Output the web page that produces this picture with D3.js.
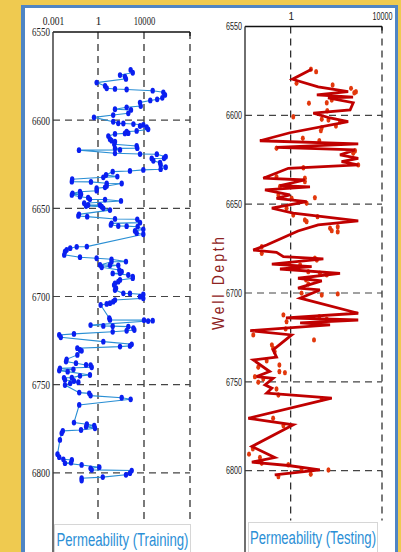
<!DOCTYPE html>
<html>
<head>
<meta charset="utf-8">
<script src="https://cdn.jsdelivr.net/npm/d3@7"></script>
<style>
html, body { margin: 0; padding: 0; background: #efca50; }
svg { display: block; }
</style>
</head>
<body>
<svg width="401" height="552"></svg>
<script>
// Training well: depth (ft) and permeability (md)
var trainDepth = [6571.5,6573.1,6574.4,6575.3,6576.6,6578.7,6580.6,6581.9,6582.3,6582.6,6583.3,6584.2,6585.7,6587.3,6588.2,6588.8,6590,6592,6592.7,6593.8,6594.2,6596.1,6597.1,6598.4,6600.9,6601.8,6601.9,6602.2,6602.7,6603.3,6604,6605.2,6606.1,6606.5,6607.4,6607.5,6607.8,6609,6610.8,6611.6,6612.2,6613.7,6614.6,6615.9,6616,6616.9,6617,6618.8,6619.2,6619.3,6620.7,6621.6,6621.7,6623,6624.1,6625.4,6626.7,6627.8,6628.2,6628.8,6629.2,6631.1,6632,6632.4,6633.5,6634.9,6635,6635.8,6635.9,6637.3,6638.1,6638.6,6640,6640.6,6641.5,6642,6642.4,6643.4,6644,6644.9,6645,6645.8,6647.1,6648.1,6648.2,6648.7,6649.1,6650,6651,6653.4,6654.3,6654.7,6656,6656.2,6658.1,6658.5,6659.4,6660,6660.1,6660.4,6661.9,6662.8,6664.1,6664.7,6671.7,6671.8,6672.6,6673.6,6674.6,6676.4,6677.7,6678.3,6678.9,6680.2,6680.3,6682.1,6682.2,6682.3,6683.4,6685,6685.9,6686.8,6686.9,6687.8,6688.7,6689.6,6690.6,6691.6,6692.5,6693.5,6695.3,6696.3,6698.2,6698.3,6698.8,6700.1,6701,6702,6702.9,6703.8,6704.2,6704.8,6712.3,6713.3,6713.4,6713.7,6713.9,6716.2,6716.7,6716.8,6717.1,6718,6719,6719.4,6720,6721.2,6721.8,6723.1,6725.6,6727.1,6728,6728.4,6729.3,6730.3,6730.8,6733.1,6735.6,6736.9,6737.8,6738.8,6738.9,6740.1,6740.7,6741.3,6742,6742.6,6744.5,6745,6746,6746.1,6747.3,6747.9,6748.6,6749.2,6750.2,6754.5,6754.9,6756.2,6757.4,6758.3,6761.5,6771.5,6772.4,6773.2,6773.8,6774.7,6775.7,6776.2,6777.5,6781.3,6789.4,6791.1,6792.3,6792.7,6794.2,6794.5,6795.5,6796.8,6797.4,6798.3,6798.7,6800.2,6801.1,6802.4,6803,6804.4];
var trainPerm = [690,1050,82,220,270,0.81,4.1,5.7,30,310,57000,480000,670000,390000,140000,35000,4500,5200,310,30,740,430,21,0.54,21,58,160,1200,8700,4500,17000,23000,2300,310,430,220,30,7.9,11,15,30,26,2300,2600,30,82,0.054,30,4500,130000,770000,550000,47000,65000,250000,280000,770000,280000,8700,600,19,5,48,2.9,0.019,0.018,0.34,5.7,115,5.7,4.1,0.81,0.81,0.063,0.02,0.074,0.018,0.063,0.22,0.29,4.1,100,0.12,0.22,1.5,0.16,2.1,2.9,11,0.054,0.049,0.19,30,2600,4500,15,13,58,310,2800,8700,1650,2300,8700,0.18,0.038,0.014,0.0081,0.0063,0.0056,0.063,0.81,15,270,15,1.5,11,58,2.1,71,115,82,19,430,1050,1050,82,58,30,25,37,30,160,600,8700,4500,8700,30,21,11,5.7,1.7,9.6,11,10000,57000,23000,0.32,2.9,19,430,1200,1450,310,19,0.025,0.0026,0.0033,2.9,850,600,82,0.042,0.063,0.081,0.042,0.0081,0.0074,0.034,0.16,0.32,0.38,0.0029,0.023,0.0026,0.0095,0.29,0.063,0.018,0.0054,0.0063,0.025,0.049,0.014,0.0063,0.056,0.26,0.32,115,690,0.056,0.025,0.18,0.56,0.16,0.63,0.074,0.0045,0.0038,0.0029,0.002,0.0026,0.0049,0.018,0.016,0.0063,0.081,1.3,0.32,0.38,850,600,270,2.6,0.081,0.081];

// Testing well: predicted curve
var predDepth = [6574.1,6579.7,6584,6586.7,6588.5,6589.7,6590.2,6592.9,6597,6598.8,6601.5,6603.6,6609.8,6614.3,6616.1,6618,6619.5,6622.3,6624.2,6626.1,6627.9,6629.8,6635.4,6636.4,6639.6,6640.3,6642,6644.8,6646.7,6648.6,6652.3,6655.1,6659.4,6661.7,6665.1,6673,6675.8,6677.1,6679.5,6680.8,6683.8,6685.2,6686.5,6688.9,6691.7,6693.2,6697.3,6698.3,6702.9,6711.4,6714,6715.2,6716.8,6718,6721.2,6723.6,6732,6736.1,6737.7,6744.2,6747.1,6748,6751.7,6753.6,6756.4,6759.2,6770.5,6774.2,6786.4,6792.6,6795.2,6797.1,6799.6,6802.4];
var predPerm = [8.3,1.2,16,330,14,540,43,550,400,9.8,53,330,0.93,0.045,910,0.24,660,145,910,170,910,0.79,0.063,4.2,0.34,7,0.075,0.93,0.24,5,0.15,1.3,910,16,2.1,0.089,0.023,0.24,0.48,27,0.15,8.3,0.34,145,2.1,23,2.1,19,2.6,910,0.62,910,2.6,53,0.017,1.1,0.17,0.24,0.023,0.12,0.032,0.17,0.075,0.15,0.089,63,0.014,1.3,0.02,0.2,0.02,0.79,19,0.2];

// Testing well: measured values
var testDepth = [6574.1,6575.4,6582,6582.9,6584.8,6586.7,6587.3,6591.4,6593.2,6592.9,6597.4,6600.8,6602.2,6602.6,6603.6,6606,6606.9,6608.6,6612.9,6614.3,6618.5,6619.9,6621.4,6627.9,6629.5,6634.5,6635.4,6637.3,6640.1,6644.8,6646.7,6646.3,6649.5,6652.3,6656.1,6657,6658.9,6659.8,6663.6,6664.9,6662.7,6665.5,6673.9,6677.6,6680.4,6681.4,6683.6,6684.2,6688,6688.9,6689.8,6692.6,6694.9,6700.1,6701.1,6700.5,6712.3,6713.3,6714.8,6716.1,6720.2,6723.6,6726.4,6729.2,6731.1,6733,6738.2,6740.5,6741.8,6744.2,6744.8,6747.1,6748.4,6750.2,6754,6757.4,6759.6,6770.5,6774.6,6787.7,6790.7,6792.6,6795.8,6796.7,6799,6799.6,6802,6803.3];
var testPerm = [7.7,13,1.8,69,440,720,610,63,6.3,38,40,1.3,23,45,145,96,23,21,3.4,18,0.24,660,550,910,3.6,0.24,4.2,4.2,0.34,0.29,1.1,11.5,5,0.66,1.3,15,4.2,5,53,63,115,115,0.054,0.054,11.5,14,0.87,2.6,5.9,19,38,4.7,5.9,3,23,115,0.48,18,38,0.66,0.6,0.023,10.5,0.15,0.17,0.2,0.089,0.32,0.038,0.32,0.56,0.027,0.063,0.038,0.24,0.29,23,0.17,0.48,0.022,0.015,0.045,0.054,0.79,3,45,7.6,0.29];

// Axis ticks
var depthTicks = [6550, 6600, 6650, 6700, 6750, 6800];
var trainPermTicks = [0.001, 1, 10000];
var testPermTicks = [1, 10000];

var svg = d3.select("svg");

// background + frame
svg.append("rect").attr("width", 401).attr("height", 552).attr("fill", "#efca50");
svg.append("rect").attr("x", 21).attr("y", 5).attr("width", 377).attr("height", 600).attr("fill", "#4f85c4");
svg.append("rect").attr("x", 25).attr("y", 8).attr("width", 370).attr("height", 600).attr("fill", "#ffffff");

function panel(opt) {
    var g = svg.append("g");
    var x = opt.x, y = opt.y;
    var x0 = x.range()[0], x1 = x.range()[x.range().length - 1];
    var yTop = y.range()[0], yBot = y.range()[1];

    // grid
    g.selectAll("line.vg").data(opt.vgrid).enter().append("line")
        .attr("x1", function(d) { return x(d); }).attr("x2", function(d) { return x(d); })
        .attr("y1", yTop).attr("y2", yBot)
        .attr("stroke", "#222").attr("stroke-width", 1.2).attr("stroke-dasharray", "7,5");
    g.selectAll("line.hg").data(depthTicks.slice(1)).enter().append("line")
        .attr("x1", x0).attr("x2", x1)
        .attr("y1", function(d) { return y(d); }).attr("y2", function(d) { return y(d); })
        .attr("stroke", "#444").attr("stroke-width", 1.2).attr("stroke-dasharray", "7,5");

    // axes lines
    g.append("line").attr("x1", x0).attr("x2", x1).attr("y1", yTop).attr("y2", yTop)
        .attr("stroke", "#111").attr("stroke-width", 1.5);
    g.append("line").attr("x1", x1).attr("x2", x1).attr("y1", yTop).attr("y2", yTop + 4)
        .attr("stroke", "#111").attr("stroke-width", 1.2);
    g.append("line").attr("x1", x0).attr("x2", x0).attr("y1", yTop).attr("y2", 560)
        .attr("stroke", "#333").attr("stroke-width", 1.4);

    // tick labels
    var ya = g.append("g").attr("transform", "translate(" + x0 + ",0)")
        .call(d3.axisLeft(y).tickValues(depthTicks).tickSize(0).tickPadding(3).tickFormat(d3.format("d")));
    ya.select(".domain").remove();
    ya.selectAll("text").attr("font-family", opt.font).attr("font-size", opt.fs)
        .attr("fill", "#222").attr("textLength", opt.ylw).attr("lengthAdjust", "spacingAndGlyphs");

    var xa = g.append("g").attr("transform", "translate(0," + (yTop - opt.xlOff) + ")")
        .call(d3.axisTop(x).tickValues(opt.xticks).tickSize(0).tickPadding(0)
            .tickFormat(function(d) { return d < 1 ? d3.format(".3f")(d) : d3.format("d")(d); }));
    xa.select(".domain").remove();
    xa.selectAll("text").attr("font-family", opt.font).attr("font-size", opt.fs).attr("fill", "#222")
        .each(function(d) {
            var n = String(this.textContent).length;
            if (n > 1) d3.select(this).attr("textLength", n * opt.cw).attr("lengthAdjust", "spacingAndGlyphs");
        });
    return g;
}

// ---- left: training ----
var xL = d3.scaleLog().domain([0.001, 1, 10000, 1e8]).range([53, 98, 144, 190]);
var yL = d3.scaleLinear().domain([6550, 6829]).range([32, 524]);
var gL = panel({x: xL, y: yL, vgrid: [1, 10000, 1e8], xticks: trainPermTicks,
    font: "Liberation Serif, serif", fs: 12, ylw: 18, cw: 4.3, xlOff: 7});

var trainPts = trainDepth.map(function(d, i) { return {d: d, k: trainPerm[i]}; });
gL.append("path").datum(trainPts)
    .attr("d", d3.line().x(function(p) { return xL(p.k); }).y(function(p) { return yL(p.d); }))
    .attr("fill", "none").attr("stroke", "#2a8fd4").attr("stroke-width", 1.1);
gL.selectAll("ellipse").data(trainPts).enter().append("ellipse")
    .attr("cx", function(p) { return xL(p.k); }).attr("cy", function(p) { return yL(p.d); })
    .attr("rx", 2.2).attr("ry", 2.9).attr("fill", "#0a1ff0");

// ---- right: testing ----
var xR = d3.scaleLog().domain([0.01, 10000]).range([245, 382]);
var yR = d3.scaleLinear().domain([6550, 6828]).range([26.5, 520.4]);
var gR = panel({x: xR, y: yR, vgrid: [1, 10000], xticks: testPermTicks,
    font: "Liberation Sans Narrow, Liberation Sans, sans-serif", fs: 10, ylw: 16, cw: 4, xlOff: 7});

var predPts = predDepth.map(function(d, i) { return {d: d, k: predPerm[i]}; });
var testPts = testDepth.map(function(d, i) { return {d: d, k: testPerm[i]}; });
gR.selectAll("ellipse").data(testPts).enter().append("ellipse")
    .attr("cx", function(p) { return xR(p.k); }).attr("cy", function(p) { return yR(p.d); })
    .attr("rx", 2).attr("ry", 2.7).attr("fill", "#e2380c");
gR.append("path").datum(predPts)
    .attr("d", d3.line().x(function(p) { return xR(p.k); }).y(function(p) { return yR(p.d); }))
    .attr("fill", "none").attr("stroke", "#c00000").attr("stroke-width", 2.8)
    .attr("stroke-linejoin", "miter");

// y title (spaced, narrow letters)
svg.append("text").attr("transform", "translate(224,282) rotate(-90) scale(0.82,1)")
    .attr("text-anchor", "middle").attr("font-family", "Liberation Sans Narrow, Liberation Sans, sans-serif")
    .attr("font-size", 17).attr("letter-spacing", 3.4).attr("fill", "#8e2222")
    .text("Well Depth");

// legend boxes
function legend(x, y, w, label, tw) {
    svg.append("rect").attr("x", x).attr("y", y).attr("width", w).attr("height", 60)
        .attr("fill", "#fff").attr("stroke", "#d6d6d6").attr("stroke-width", 1);
    svg.append("text").attr("x", x + w / 2).attr("y", y + 21).attr("text-anchor", "middle")
        .attr("font-family", "Liberation Sans Narrow, Liberation Sans, sans-serif").attr("font-size", 18)
        .attr("fill", "#2b8fd6").attr("textLength", tw).attr("lengthAdjust", "spacingAndGlyphs")
        .text(label);
}
legend(54.5, 524.5, 136, "Permeability (Training)", 132);
legend(248.5, 522.5, 129, "Permeability (Testing)", 126);
</script>
</body>
</html>
